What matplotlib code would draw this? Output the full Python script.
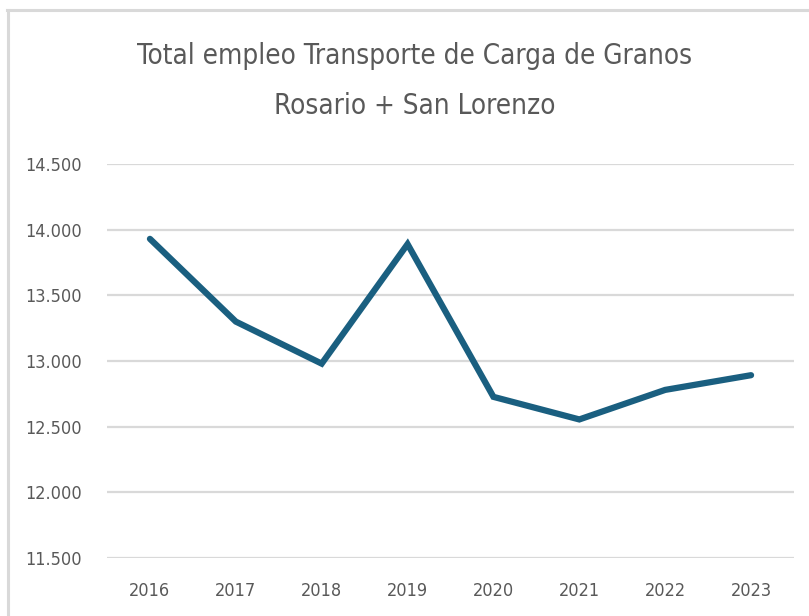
import matplotlib.pyplot as plt
from matplotlib.lines import Line2D
from matplotlib.ticker import FuncFormatter

years = ['2016', '2017', '2018', '2019', '2020', '2021', '2022', '2023']
empleo = [13930, 13300, 12980, 13890, 12727, 12555, 12780, 12892]
y_ticks = [11500, 12000, 12500, 13000, 13500, 14000, 14500]

W, H = 809, 616
# narrow face if the system has DejaVu Sans Condensed, plain DejaVu otherwise
plt.rcParams['font.family'] = ['DejaVu Sans']
plt.rcParams['font.stretch'] = 'condensed'

fig = plt.figure(figsize=(W / 100, H / 100), dpi=100)
fig.patch.set_facecolor('white')

# light grey frame, only top and left edges show in the crop
fig.add_artist(Line2D([7 / W, 1], [1 - 10 / H, 1 - 10 / H], color='#d9d9d9', lw=2.2,
                      transform=fig.transFigure))
fig.add_artist(Line2D([8 / W, 8 / W], [0, 1 - 10 / H], color='#d9d9d9', lw=2.2,
                      transform=fig.transFigure))

ax = fig.add_axes([107 / W, 1 - 558 / H, (794 - 107) / W, (558 - 164) / H])
ax.plot(range(len(years)), empleo, color='#1a5f80', lw=4.5, solid_capstyle='round',
        solid_joinstyle='miter', zorder=3)

ax.set_xlim(-0.5, len(years) - 0.5)
ax.set_ylim(y_ticks[0], y_ticks[-1])
ax.set_yticks(y_ticks)
ax.yaxis.set_major_formatter(FuncFormatter(lambda v, p: f'{int(v):,}'.replace(',', '.')))
ax.set_xticks(range(len(years)))
ax.set_xticklabels(years)

ax.grid(axis='y', color='#d9d9d9', lw=1.6, zorder=0)
for s in ax.spines.values():
    s.set_visible(False)
ax.tick_params(axis='both', length=0, labelsize=13, labelcolor='#595959')
ax.tick_params(axis='y', pad=18)
ax.tick_params(axis='x', pad=17)

fig.text(415 / W, 1 - 56 / H, 'Total empleo Transporte de Carga de Granos',
         ha='center', va='center', fontsize=20, color='#595959')
fig.text(415 / W, 1 - 106 / H, 'Rosario + San Lorenzo',
         ha='center', va='center', fontsize=20, color='#595959')

fig.savefig('out.png', dpi=100, facecolor='white')
